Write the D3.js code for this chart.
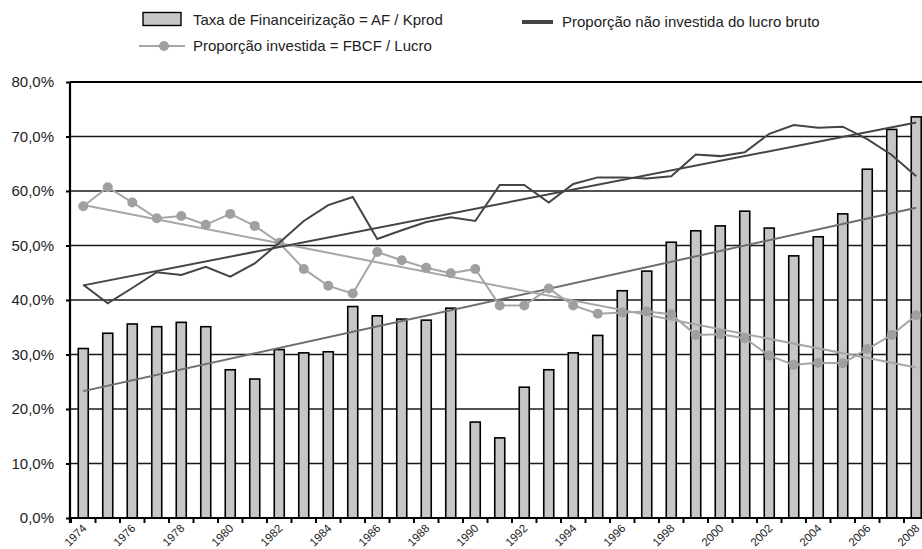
<!DOCTYPE html>
<html>
<head>
<meta charset="utf-8">
<script src="https://cdn.jsdelivr.net/npm/d3@7"></script>
<style>
  body { margin: 0; background: #fff; }
  svg { display: block; font-family: "Liberation Sans", Arial, sans-serif; }
</style>
</head>
<body>
<svg></svg>
<script>
// values (percent)
const years = d3.range(1974, 2009);
const taxaFin = [
  31.1, 33.9, 35.6, 35.1, 35.9, 35.1, 27.2, 25.5, 30.9, 30.3,
  30.5, 38.8, 37.1, 36.5, 36.3, 38.5, 17.6, 14.7, 24.0, 27.2,
  30.3, 33.5, 41.7, 45.3, 50.6, 52.7, 53.6, 56.3, 53.2, 48.1,
  51.6, 55.8, 64.0, 71.3, 73.6
];
const propInvestida = [
  57.2, 60.7, 57.9, 55.0, 55.4, 53.8, 55.8, 53.6, 50.5, 45.7,
  42.6, 41.2, 48.8, 47.3, 45.9, 44.9, 45.7, 39.0, 39.0, 42.1,
  39.0, 37.5, 37.7, 37.9, 37.4, 33.6, 33.7, 33.0, 29.8, 28.1,
  28.5, 28.4, 31.0, 33.6, 37.2
];
const propNaoInvestida = [
  42.8, 39.4, 42.2, 45.1, 44.6, 46.1, 44.3, 46.7, 50.5, 54.5,
  57.4, 58.9, 51.2, 52.8, 54.3, 55.2, 54.5, 61.1, 61.1, 57.9,
  61.3, 62.5, 62.5, 62.3, 62.7, 66.7, 66.4, 67.1, 70.5, 72.1,
  71.6, 71.8, 69.5, 66.6, 62.7
];
const yTicks = [0, 10, 20, 30, 40, 50, 60, 70, 80];
const labelYears = years.filter((d) => (d - 1974) % 2 === 0);

const width = 922, height = 549;
const svg = d3.select("svg").attr("width", width).attr("height", height);

const x = d3.scaleBand().domain(years).range([71, 928.5]);
const y = d3.scaleLinear().domain([0, 80]).range([518, 82]);
const cx = (d) => x(d) + x.bandwidth() / 2;

const ptBr = d3.formatLocale({ decimal: ",", thousands: ".", grouping: [3], currency: ["R$", ""] });
const fmt = (d) => ptBr.format(".1f")(d) + "%";

// grid
svg.append("g")
  .selectAll("line")
  .data(yTicks.filter((d) => d > 0))
  .enter()
  .append("line")
  .attr("x1", 70)
  .attr("x2", width)
  .attr("y1", (d) => y(d))
  .attr("y2", (d) => y(d))
  .attr("stroke", (d) => (d === 80 ? "#000" : "#1a1a1a"))
  .attr("stroke-width", (d) => (d === 80 ? 2.2 : 1.4));

// bars
svg.append("g")
  .selectAll("rect")
  .data(years)
  .enter()
  .append("rect")
  .attr("x", (d) => cx(d) - 5)
  .attr("width", 10)
  .attr("y", (d, i) => y(taxaFin[i]))
  .attr("height", (d, i) => y(0) - y(taxaFin[i]))
  .attr("fill", "#c6c6c6")
  .attr("stroke", "#000")
  .attr("stroke-width", 1.6);

// linear trend (least squares, like the spreadsheet trendline)
function trend(vals) {
  const n = vals.length;
  const mx = d3.mean(years), my = d3.mean(vals);
  let sxy = 0, sxx = 0;
  years.forEach((yr, i) => {
    sxy += (yr - mx) * (vals[i] - my);
    sxx += (yr - mx) * (yr - mx);
  });
  const b = sxy / sxx;
  return [years[0], years[n - 1]].map((yr) => [yr, my + b * (yr - mx)]);
}

const line = d3.line().x((d) => cx(d[0])).y((d) => y(d[1]));
const seriesLine = (vals) => line(years.map((yr, i) => [yr, vals[i]]));

svg.append("path").attr("d", line(trend(taxaFin)))
  .attr("fill", "none").attr("stroke", "#6e6e6e").attr("stroke-width", 2);

svg.append("path").attr("d", line(trend(propInvestida)))
  .attr("fill", "none").attr("stroke", "#a6a6a6").attr("stroke-width", 2);

svg.append("path").attr("d", seriesLine(propInvestida))
  .attr("fill", "none").attr("stroke", "#a6a6a6").attr("stroke-width", 2);

svg.append("g")
  .selectAll("circle")
  .data(years)
  .enter()
  .append("circle")
  .attr("cx", (d) => cx(d))
  .attr("cy", (d, i) => y(propInvestida[i]))
  .attr("r", 5)
  .attr("fill", "#a0a0a0");

svg.append("path").attr("d", line(trend(propNaoInvestida)))
  .attr("fill", "none").attr("stroke", "#444").attr("stroke-width", 2);

svg.append("path").attr("d", seriesLine(propNaoInvestida))
  .attr("fill", "none").attr("stroke", "#444").attr("stroke-width", 2);

// y axis
const yAxisGroup = svg.append("g").attr("transform", "translate(70,0)");
yAxisGroup.call(
  d3.axisLeft(y).tickValues(yTicks).tickFormat(fmt).tickSize(4).tickPadding(12)
);
yAxisGroup.select(".domain").attr("d", `M0,${y(80)}V${y(0) + 5}`).attr("stroke-width", 2.2);
yAxisGroup.selectAll(".tick line").attr("stroke-width", 2);
yAxisGroup.selectAll("text")
  .attr("font-size", 15)
  .attr("font-family", "Liberation Sans, Arial, sans-serif")
  .attr("fill", "#222");

// x axis
const xAxisGroup = svg.append("g");
xAxisGroup.append("line")
  .attr("x1", 70).attr("x2", width)
  .attr("y1", y(0)).attr("y2", y(0))
  .attr("stroke", "#000").attr("stroke-width", 2.2);
xAxisGroup.selectAll(".xtick")
  .data(years)
  .enter()
  .append("line")
  .attr("x1", (d) => x(d)).attr("x2", (d) => x(d))
  .attr("y1", y(0)).attr("y2", y(0) + 5)
  .attr("stroke", "#000").attr("stroke-width", 2);
xAxisGroup.selectAll("text")
  .data(labelYears)
  .enter()
  .append("text")
  .attr("transform", (d) => `translate(${cx(d) + 4},${y(0) + 11}) rotate(-45)`)
  .attr("text-anchor", "end")
  .attr("font-size", 11.5)
  .attr("fill", "#222")
  .text((d) => d);

// legend
const legend = svg.append("g").attr("font-size", 15).attr("fill", "#222");
legend.append("rect")
  .attr("x", 143).attr("y", 12.5).attr("width", 38).attr("height", 13)
  .attr("fill", "#c6c6c6").attr("stroke", "#000").attr("stroke-width", 1.4);
legend.append("text").attr("x", 193).attr("y", 25).text("Taxa de Financeirização = AF / Kprod");

legend.append("line")
  .attr("x1", 139).attr("x2", 185).attr("y1", 46).attr("y2", 46)
  .attr("stroke", "#a6a6a6").attr("stroke-width", 2);
legend.append("circle").attr("cx", 164).attr("cy", 46).attr("r", 5).attr("fill", "#a0a0a0");
legend.append("text").attr("x", 193).attr("y", 51).text("Proporção investida = FBCF / Lucro");

legend.append("line")
  .attr("x1", 522).attr("x2", 553).attr("y1", 22).attr("y2", 22)
  .attr("stroke", "#444").attr("stroke-width", 4);
legend.append("text").attr("x", 562).attr("y", 27).text("Proporção não investida do lucro bruto");
</script>
</body>
</html>
